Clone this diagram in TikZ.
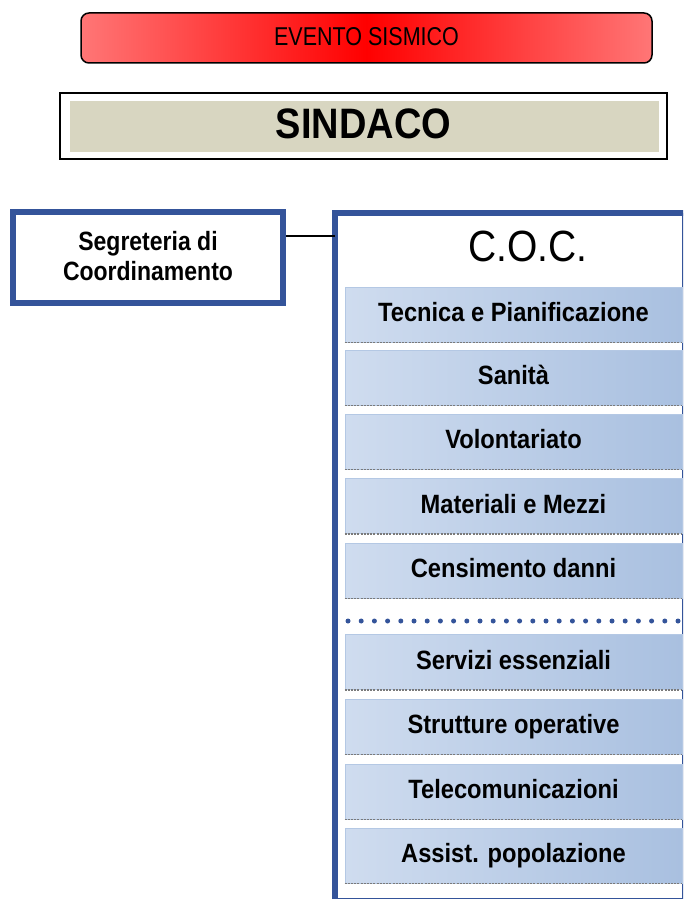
\documentclass[tikz,border=0pt]{standalone}
\usepackage{fontspec}
\setmainfont{Liberation Sans}
\usetikzlibrary{calc}
\definecolor{frameblue}{HTML}{34549A}
\definecolor{evside}{HTML}{FF7676}
\definecolor{evmid}{HTML}{FF0000}
\definecolor{sindfill}{HTML}{D8D6C1}
\definecolor{boxl}{HTML}{CFDCEF}
\definecolor{boxr}{HTML}{A9C0E0}
\definecolor{boxedge}{HTML}{B4C8E4}
\definecolor{dashgrey}{HTML}{7A7A7A}
\newcommand\tallt[2]{\scalebox{1}[#1]{#2}}
\tikzset{
  evento/.style={draw=black, line width=1.5pt, rounded corners=8pt,
    minimum width=571pt, minimum height=50pt, inner sep=0pt,
    left color=evside, right color=evside, middle color=evmid,
    font=\fontsize{21.5}{26}\selectfont},
  sindbox/.style={draw=black, line width=1.5pt, fill=white,
    minimum width=607pt, minimum height=66pt, inner sep=0pt},
  sindtext/.style={font=\fontsize{38}{46}\selectfont\bfseries, inner sep=0pt},
  segbox/.style={draw=frameblue, line width=6pt, fill=white,
    minimum width=270pt, minimum height=91pt, inner sep=0pt, align=center,
    font=\fontsize{23}{30}\selectfont\bfseries},
  cocframe/.style={draw=frameblue, line width=2pt, minimum width=347pt,
    minimum height=685pt, inner sep=0pt, anchor=north west},
  coctitle/.style={font=\fontsize{39}{48}\selectfont, inner sep=0pt},
  unit/.style={draw=boxedge, line width=0.8pt, minimum width=337pt,
    minimum height=55pt, inner sep=0pt, left color=boxl, right color=boxr,
    font=\fontsize{23}{28}\selectfont\bfseries},
  unitbase/.style={draw=dashgrey, line width=1.6pt, dash pattern=on 2pt off 1.2pt},
  connector/.style={draw=black, line width=1.2pt},
  dotline/.style={draw=frameblue, line width=5pt, line cap=round,
    dash pattern=on 0pt off 13.2pt}
}
\begin{document}
\begin{tikzpicture}[x=1pt,y=-1pt]
\clip (0,0) rectangle (683,899);
\fill[white] (0,0) rectangle (683,899);

% EVENTO SISMICO
\node[evento] (ev) at (366.5,38) {\raisebox{3pt}{\tallt{1.2}{EVENTO SISMICO}}};

% SINDACO
\node[sindbox] (sind) at (363.5,126) {};
\fill[sindfill] ($(sind.south west)+(11,-8)$) rectangle ($(sind.north east)+(-9,9)$);
\node[sindtext] (sindt) at ($(sind.center)+(0,-2)$) {\tallt{1.12}{SINDACO}};

% Segreteria
\node[segbox] (seg) at (148,257.5) {\raisebox{4pt}{\tallt{1.15}{Segreteria di}}\\\raisebox{4pt}{\tallt{1.15}{Coordinamento}}};

% COC frame
\node[cocframe] (coc) at (335,212.5) {};
\draw[frameblue, line width=6pt] (coc.south west) -- (coc.north west) -- (coc.north east);
\node[coctitle] (coct) at (528,246) {\tallt{1.12}{C.O.C.}};

% connector
\draw[connector] ([yshift=21.5pt]seg.east) -- ([yshift=21.5pt]seg.east -| coc.west);

% units
\foreach \nm/\yy/\tx in {
  tec/314.5/{Tecnica e Pianificazione},
  san/377.5/{Sanità},
  vol/441.5/{Volontariato},
  mat/506/{Materiali e Mezzi},
  cen/570.5/{Censimento danni},
  ser/662/{Servizi essenziali},
  str/726.5/{Strutture operative},
  tel/791.5/{Telecomunicazioni},
  ass/855.5/{Assist. popolazione}}{
  \node[unit] (\nm) at (513.5,\yy) {\raisebox{4.5pt}{\scalebox{1.03}[1.15]{\tx}}};
  \draw[unitbase] (\nm.south west) -- (\nm.south east);
}

% dotted separator
\draw[dotline] (348,621) -- (690,621);
\end{tikzpicture}
\end{document}
